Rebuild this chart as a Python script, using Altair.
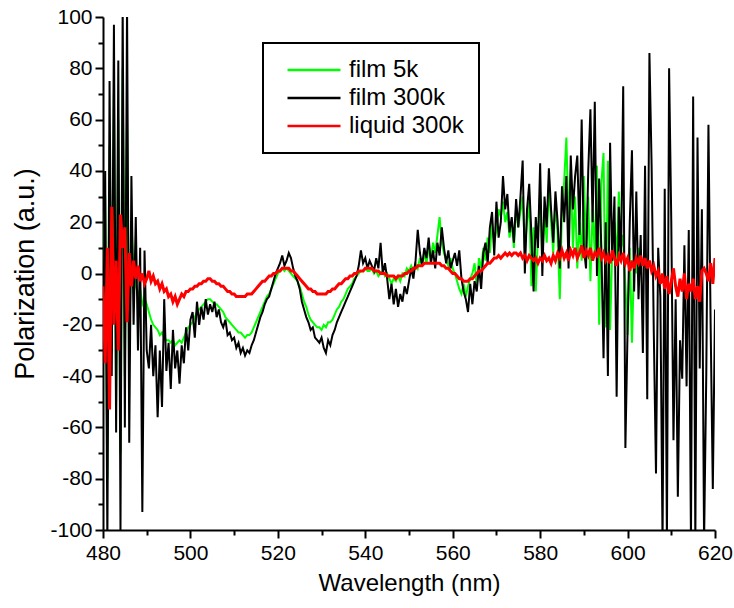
import altair as alt
import numpy as np
import pandas as pd

# wavelength grids (nm)
wl_full = np.round(np.arange(480.0, 620.01, 0.5), 1)
wl_green = np.round(np.arange(480.0, 603.01, 0.5), 1)

series_names = ["film 5k", "film 300k", "liquid 300k"]
series_colors = ["#00ff00", "#000000", "#ff0000"]

film_300k = [
    -30, 40, -105, 75, -40, 97, -62, 83, -100, 105, -60, 105, -66, 38, -20, 22, -30, 10, -93, 9,
    -30, -37, -20, -40, -28, -56, -30, -52, -10, -38, -27, -45, -22, -37, -30, -43, -28, -35, -21, -30,
    -18, -15, -25, -11, -20, -13, -18, -10, -16, -12, -15, -11, -17, -14, -19, -21, -18, -24, -23, -26,
    -25, -29, -27, -31, -29, -32, -30, -31, -28, -26, -23, -20, -17, -15, -12, -10, -9, -6, -3, 0,
    2, 4, 7, 3, 5, 8, 6, 2, -1, -3, -6, -11, -14, -17, -19, -22, -21, -25, -26, -27,
    -25, -29, -31, -26, -28, -24, -22, -19, -17, -15, -13, -11, -9, -7, -5, -3, -1, 3, 9, 4,
    6, 2, 5, 3, 1, 6, 2, 12, 0, 4, -2, -10, -4, -12, -6, -13, -8, -11, -5, -8,
    -3, 2, -2, 5, 17, 8, 3, 10, 6, 14, 4, 9, 2, 12, 7, 18, 10, 4, 9, 2,
    5, 8, 3, 9, -2, -7, -10, -15, -4, -12, -3, -7, 3, -6, 8, 12, 4, 18, 24, 7,
    28, 14, 20, 38, 25, 31, 16, 22, 12, 29, 18, 30, 44, 0, 25, 35, 15, -7, 22, 10,
    43, -1, 30, 18, 41, 25, 12, 32, 20, 2, 34, 20, 38, 2, 46, 25, 38, 46, 15, 60,
    10, 2, 40, 64, 20, 67, -1, 37, 10, -33, 20, -40, 51, 5, 30, -48, 26, 5, 73, -68,
    -22, 20, 48, -7, 32, -10, 15, -31, 42, -49, 86, 42, -23, -78, 10, -9, -105, 33, -105, 80,
    20, -65, -10, -87, -26, -41, 11, -44, 17, -105, 69, -105, 53, -37, 25, -105, -40, 58, -20, -84,
    -14,
]

film_5k = [
    -20, 30, -80, 50, -31, 70, -50, 60, -70, 80, -40, 60, -30, 20, 0, -5, -8, -6, -12, -10,
    -12, -15, -18, -20, -21, -22, -24, -23, -25, -26, -26, -27, -26, -28, -27, -26, -27, -25, -23, -21,
    -20, -19, -17, -15, -14, -13, -12, -11, -10, -10, -11, -12, -12, -13, -14, -15, -17, -18, -19, -20,
    -21, -22, -23, -23, -24, -25, -24, -24, -23, -21, -19, -17, -15, -13, -11, -9, -8, -6, -4, -2,
    0, 1, 2, 1, 2, 1, 0, -1, -2, -3, -5, -8, -11, -13, -16, -18, -19, -20, -21, -21,
    -22, -20, -21, -19, -19, -18, -16, -14, -13, -11, -10, -8, -6, -5, -4, -2, -1, 0, 1, 1,
    2, 1, 1, 2, 0, 1, -1, 0, 1, -1, 0, -2, -4, -2, -3, -1, -3, 0, -1, 2,
    1, 3, 1, 4, 2, 6, 3, 8, 4, 10, 6, 12, 8, 15, 22, 12, 8, 5, 3, 6,
    2, 0, -3, -6, -8, -4, -9, -5, -2, 0, 4, -5, 6, 2, 10, 5, 14, 8, 20, 12,
    17, 25, 22, 28, 20, 24, 14, 20, 10, 26, 18, 24, 30, 10, 20, 28, -5, 18, -7, 15,
    32, 5, 25, 12, 35, 20, 8, 28, 15, -10, 25, 36, 53, 20, 40, 10, 30, 2, 20, 5,
    38, 10, 30, -3, 25, 8, 42, -20, 35, 47, -21, 44, -22, 10, 20, 5, 32, 10, 15, -5,
    -24, 10, -27, 5, 0, 10, 5,
]

liquid_300k = [
    -5, -35, 10, -53, 26, -20, 5, -30, 23, 10, 18, -19, 8, -5, 5, -2, 3, -3, 0, -4,
    -2, 1, -3, -1, -4, -3, -6, -4, -7, -6, -9, -8, -11, -9, -12, -10, -8, -9, -7, -7,
    -6, -6, -5, -5, -4, -4, -3, -3, -2, -2, -3, -3, -4, -4, -5, -5, -6, -7, -7, -8,
    -8, -9, -9, -9, -9, -9, -8, -8, -8, -7, -6, -5, -4, -3, -3, -2, -1, -1, 0, 0,
    1, 1, 2, 2, 2, 2, 1, 1, 0, -1, -2, -3, -4, -5, -6, -6, -7, -7, -8, -8,
    -8, -8, -8, -7, -7, -6, -6, -5, -4, -4, -3, -2, -2, -1, -1, 0, 0, 1, 1, 1,
    2, 2, 2, 2, 1, 1, 1, 0, 0, 0, -1, -1, -1, -1, -2, -1, -1, -1, 0, 0,
    1, 1, 2, 2, 3, 3, 3, 4, 4, 4, 4, 4, 4, 4, 4, 3, 3, 2, 2, 1,
    0, 0, -1, -2, -2, -3, -3, -3, -2, -2, -1, 0, 1, 1, 2, 3, 4, 4, 5, 6,
    6, 7, 6, 7, 8, 7, 8, 7, 8, 8, 7, 8, 6, 7, 5, 7, 6, 5, 6, 4,
    6, 5, 7, 5, 6, 4, 7, 5, 8, 6, 9, 6, 8, 5, 9, 7, 10, 6, 8, 11,
    6, 9, 7, 10, 5, 8, 7, 10, 6, 8, 5, 7, 4, 9, 6, 3, 7, 5, 8, 4,
    6, 1, 5, 2, 6, 4, 7, 3, 6, 2, 5, 1, 3, -1, 1, -4, 0, -6, -1, -8,
    -3, 2, -5, -9, -2, -7, 0, -10, -4, -7, -2, -10, -5, -11, 1, 2, 0, -3, 4, -4,
    6,
]

df = pd.concat([
    pd.DataFrame({"wavelength": wl_green, "value": film_5k, "series": "film 5k"}),
    pd.DataFrame({"wavelength": wl_full, "value": film_300k, "series": "film 300k"}),
    pd.DataFrame({"wavelength": wl_full, "value": liquid_300k, "series": "liquid 300k"}),
], ignore_index=True)

FONT = "Liberation Sans"

x_enc = alt.X(
    "wavelength:Q",
    scale=alt.Scale(domain=[480, 620], nice=False, zero=False),
    axis=alt.Axis(
        title="Wavelength (nm)",
        values=list(range(480, 621, 10)),
        labelExpr="datum.value % 20 === 0 ? '' + datum.value : ''",
        tickSize={"condition": {"test": "datum.value % 20 === 0", "value": 8}, "value": 5},
        labelFlush=False,
        labelOverlap=False,
        labelPadding=4,
        titlePadding=8,
        titleFontSize=24,
    ),
)
y_enc = alt.Y(
    "value:Q",
    scale=alt.Scale(domain=[-100, 100], nice=False, zero=False),
    axis=alt.Axis(
        title="Polarization (a.u.)",
        values=list(range(-100, 101, 10)),
        labelExpr="datum.value % 20 === 0 ? '' + datum.value : ''",
        tickSize={"condition": {"test": "datum.value % 20 === 0", "value": 8}, "value": 5},
        labelFlush=False,
        labelOverlap=False,
        labelPadding=3,
        titlePadding=10,
        titleFontSize=27,
    ),
)
color_enc = alt.Color(
    "series:N",
    scale=alt.Scale(domain=series_names, range=series_colors),
    legend=alt.Legend(title=None),
)

base = alt.Chart(df).encode(x=x_enc, y=y_enc, color=color_enc)

layers = []
widths = {"film 5k": 2, "film 300k": 2, "liquid 300k": 3}
for name in series_names:
    layers.append(
        base.transform_filter(alt.datum.series == name).mark_line(
            strokeWidth=widths[name], clip=True, interpolate="linear"
        )
    )

chart = (
    alt.layer(*layers)
    .properties(
        width=612,
        height=513,
        autosize=alt.AutoSizeParams(type="none"),
        padding={"left": 103, "top": 17, "right": 19, "bottom": 78},
        background="white",
    )
    .configure_view(stroke=None)
    .configure_axis(
        grid=False,
        domainColor="black",
        domainWidth=2,
        tickColor="black",
        tickWidth=2,
        labelFont=FONT,
        labelFontSize=21,
        labelColor="black",
        titleFont=FONT,
        titleFontWeight="normal",
        titleColor="black",
    )
    .configure_legend(
        orient="none",
        legendX=160,
        legendY=26,
        padding=15,
        strokeColor="black",
        strokeWidth=2,
        symbolType="M-5.3,0H5.3",
        symbolSize=100,
        symbolStrokeWidth=2.5,
        symbolOffset=24,
        labelOffset=23,
        labelFont=FONT,
        labelFontSize=24,
        labelColor="black",
        labelLimit=300,
        rowPadding=4,
    )
)

chart.save("out.html", embed_options={"renderer": "svg", "actions": False})
